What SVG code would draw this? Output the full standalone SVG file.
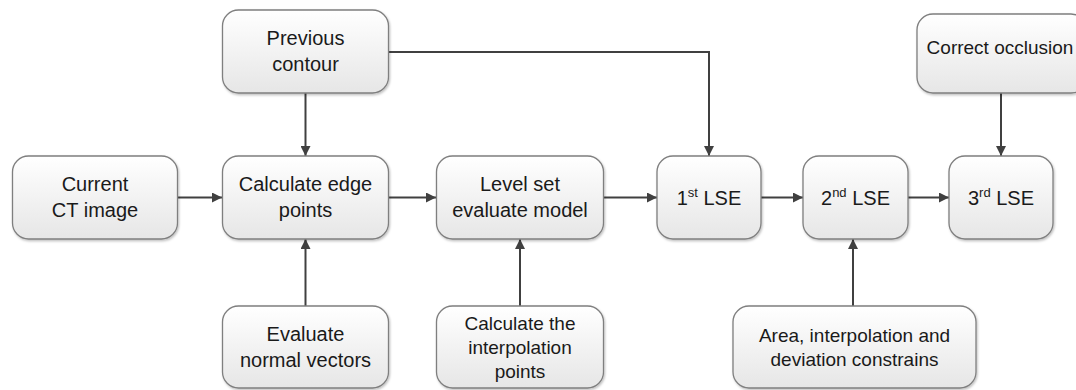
<svg xmlns="http://www.w3.org/2000/svg" width="1076" height="390" viewBox="0 0 1076 390">
<defs>
<linearGradient id="g" x1="0" y1="0" x2="0" y2="1">
<stop offset="0" stop-color="#ffffff"/>
<stop offset="1" stop-color="#e6e6e6"/>
</linearGradient>
<filter id="sh" x="-10%" y="-10%" width="120%" height="130%">
<feDropShadow dx="1" dy="1.5" stdDeviation="1.2" flood-color="#000" flood-opacity="0.25"/>
</filter>
<marker id="ah" viewBox="0 0 10 10" refX="10" refY="5" markerWidth="10" markerHeight="10" markerUnits="userSpaceOnUse" orient="auto">
<path d="M0,0 L10,5 L0,10 Z" fill="#404040"/>
</marker>
</defs>
<style>
.box{fill:url(#g);stroke:#7f7f7f;stroke-width:1.3;filter:url(#sh)}
.t{font-family:"Liberation Sans",Arial,sans-serif;font-size:20px;fill:#1a1a1a;text-anchor:middle}
.s{font-size:19px}
.c{fill:none;stroke:#404040;stroke-width:2;marker-end:url(#ah)}
</style>
<rect width="1076" height="390" fill="#ffffff"/>
<g id="connectors">
<path class="c" d="M177,197.5 H222"/>
<path class="c" d="M389,197.5 H436"/>
<path class="c" d="M604,197.5 H657"/>
<path class="c" d="M761,197.5 H803"/>
<path class="c" d="M908,197.5 H949"/>
<path class="c" d="M305.5,93 V156"/>
<path class="c" d="M388,52 H709 V156"/>
<path class="c" d="M1001,93 V156"/>
<path class="c" d="M305.5,306 V239"/>
<path class="c" d="M520,306 V239"/>
<path class="c" d="M853,306 V239"/>
</g>
<g id="previous-contour">
<rect class="box" x="222.5" y="10" width="166" height="83" rx="16"/>
<text class="t" x="305.5" y="45">Previous</text>
<text class="t" x="305.5" y="71">contour</text>
</g>
<g id="correct-occlusion">
<rect class="box" x="917" y="14" width="170" height="79" rx="16"/>
<text class="t s" x="1000" y="54">Correct occlusion</text>
</g>
<g id="current-ct-image">
<rect class="box" x="12.5" y="156" width="165" height="83" rx="16"/>
<text class="t" x="95" y="191">Current</text>
<text class="t" x="95" y="217">CT image</text>
</g>
<g id="calculate-edge-points">
<rect class="box" x="222.5" y="156" width="166" height="83" rx="16"/>
<text class="t" x="305.5" y="191">Calculate edge</text>
<text class="t" x="305.5" y="217">points</text>
</g>
<g id="level-set">
<rect class="box" x="436.5" y="156" width="167" height="83" rx="16"/>
<text class="t" x="520" y="191">Level set</text>
<text class="t" x="520" y="217">evaluate model</text>
</g>
<g id="lse1">
<rect class="box" x="657" y="156" width="104" height="83" rx="16"/>
<text class="t" x="709" y="205">1<tspan font-size="13" dy="-8">st</tspan><tspan dy="8"> LSE</tspan></text>
</g>
<g id="lse2">
<rect class="box" x="803" y="156" width="105" height="83" rx="16"/>
<text class="t" x="855.5" y="205">2<tspan font-size="13" dy="-8">nd</tspan><tspan dy="8"> LSE</tspan></text>
</g>
<g id="lse3">
<rect class="box" x="949" y="156" width="104" height="83" rx="16"/>
<text class="t" x="1001" y="205">3<tspan font-size="13" dy="-8">rd</tspan><tspan dy="8"> LSE</tspan></text>
</g>
<g id="evaluate-normal-vectors">
<rect class="box" x="222.5" y="306" width="166" height="82" rx="16"/>
<text class="t" x="305.5" y="341">Evaluate</text>
<text class="t" x="305.5" y="367">normal vectors</text>
</g>
<g id="calculate-interpolation-points">
<rect class="box" x="436.5" y="306" width="167" height="82" rx="16"/>
<text class="t s" x="520" y="330">Calculate the</text>
<text class="t s" x="520" y="354">interpolation</text>
<text class="t s" x="520" y="378">points</text>
</g>
<g id="area-constraints">
<rect class="box" x="733" y="306" width="243" height="82" rx="16"/>
<text class="t s" x="854.5" y="342">Area, interpolation and</text>
<text class="t s" x="854.5" y="366">deviation constrains</text>
</g>
</svg>
